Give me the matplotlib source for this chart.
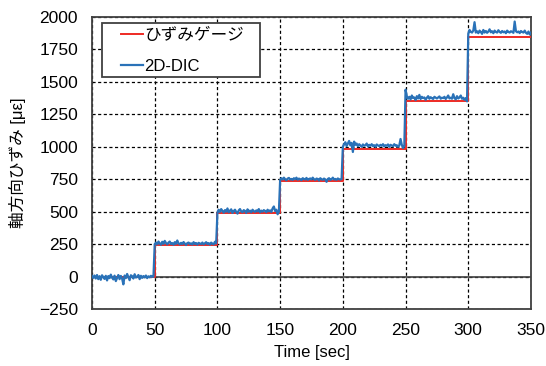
import matplotlib.pyplot as plt
from matplotlib.patches import Rectangle
import numpy as np

plt.rcParams['font.family'] = ['Liberation Sans', 'Noto Sans CJK JP', 'DejaVu Sans']

# ひずみゲージ (step levels)
gauge_t = [0, 50, 100, 150, 200, 250, 300, 350]
gauge_v = [0, 240, 490, 735, 985, 1350, 1845, 1845]

# 2D-DIC, 1 sample per sec
dic_0 = [5, -10, 8, -15, 12, -20, 3, -25, 10, -5, -18, 6, -30, 4, -12, 15, -8, -22, 7, -35,
         -10, 12, -20, 5, -15, -60, 8, -12, 20, -5, -28, 10, 3, -15, 18, -8, -2, 12, -20, 6,
         -10, 4, -6, 8, -12, 2, -5, 6, -3, 0]
dic_1 = [250, 262, 248, 270, 255, 245, 268, 252, 275, 258, 248, 262, 270, 250, 258, 245, 265, 252, 278, 255,
         248, 260, 250, 266, 255, 243, 258, 262, 250, 256, 247, 265, 252, 258, 246, 260, 255, 250, 262, 248,
         256, 265, 250, 258, 246, 262, 253, 248, 268, 255]
dic_2 = [490, 515, 498, 520, 505, 492, 512, 500, 525, 495, 508, 518, 490, 505, 515, 498, 485, 510, 520, 502,
         495, 512, 505, 490, 518, 500, 508, 495, 515, 505, 498, 510, 502, 520, 495, 508, 500, 512, 505, 496,
         515, 503, 510, 498, 525, 540, 505, 515, 480, 500]
dic_3 = [745, 758, 748, 762, 750, 742, 755, 760, 748, 752, 745, 758, 750, 762, 746, 755, 750, 742, 758, 752,
         748, 760, 745, 752, 756, 748, 762, 750, 745, 755, 752, 740, 758, 750, 746, 755, 748, 730, 752, 758,
         745, 750, 762, 748, 752, 745, 756, 750, 748, 752]
dic_4 = [1000, 1020, 1035, 1005, 1025, 1045, 1010, 1030, 960, 1040, 1015, 1025, 1005, 1020, 1010, 1000, 1018, 1008, 1012, 1025,
         1002, 1015, 1008, 1020, 1005, 1012, 1000, 1018, 1010, 1005, 1015, 1008, 1020, 1002, 1012, 1008, 1018, 1000, 1015, 1010,
         1005, 1020, 1008, 1012, 1000, 1010, 1060, 1015, 990, 1005]
dic_5 = [1440, 1390, 1370, 1385, 1365, 1395, 1375, 1380, 1360, 1390, 1372, 1400, 1368, 1385, 1375, 1380, 1362, 1378, 1390, 1370,
         1382, 1374, 1368, 1385, 1378, 1372, 1380, 1388, 1370, 1378, 1375, 1385, 1368, 1380, 1395, 1372, 1378, 1370, 1405, 1375,
         1365, 1390, 1372, 1380, 1395, 1370, 1378, 1362, 1375, 1350]
dic_6 = [1870, 1900, 1885, 1880, 1895, 1960, 1880, 1890, 1875, 1895, 1885, 1870, 1900, 1880, 1892, 1878, 1888, 1905, 1882, 1890,
         1875, 1895, 1885, 1880, 1898, 1885, 1878, 1892, 1882, 1888, 1875, 1895, 1885, 1880, 1890, 1885, 1878, 1965, 1890, 1882,
         1888, 1876, 1892, 1884, 1880, 1895, 1878, 1870, 1888, 1865, 1880]

dic_v = dic_0 + dic_1 + dic_2 + dic_3 + dic_4 + dic_5 + dic_6
dic_t = np.arange(len(dic_v))

fig = plt.figure(figsize=(5.46, 3.66), dpi=100)
ax = fig.add_axes([0.1685, 0.1557, 0.804, 0.7979])

ax.step(gauge_t, gauge_v, where='post', color='#ee2a24', lw=1.4, label='ひずみゲージ', zorder=3)
ax.plot(dic_t, dic_v, color='#2a72b8', lw=1.6, label='2D-DIC', zorder=4)

ax.axhline(0, color='#404040', lw=1.2, zorder=2)
ax.set_xlim(0, 350)
ax.set_ylim(-250, 2000)
ax.set_xticks(range(0, 351, 50))
ax.set_yticks(range(-250, 2001, 250))
ax.grid(True, color='black', linestyle=(0, (2.5, 2)), lw=0.9)
ax.tick_params(length=0, labelsize=12.5, pad=10)
for s in ax.spines.values():
    s.set_color('#404040')
    s.set_linewidth(1.3)

ax.set_xlabel('Time [sec]', fontsize=12, labelpad=5)
ax.set_ylabel('軸方向ひずみ [με]', fontsize=12, labelpad=9)

# legend box drawn by hand to get its wide side padding
ax.add_patch(Rectangle((0.0228, 0.7945), 0.36, 0.185, transform=ax.transAxes,
                       facecolor='white', edgecolor='#404040', lw=1.3, zorder=5))
leg = ax.legend(loc='upper left', bbox_to_anchor=(0.066, 0.963), fontsize=12,
                frameon=False, handlelength=1.3, handletextpad=0.1,
                borderpad=0, borderaxespad=0, labelspacing=0.95)
leg.set_zorder(6)

fig.savefig('out.png', dpi=100)
